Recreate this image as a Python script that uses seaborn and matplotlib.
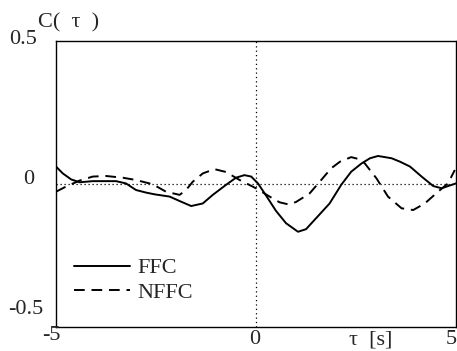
import matplotlib
matplotlib.use("Agg")
import matplotlib.pyplot as plt
import seaborn as sns
import pandas as pd

tau_ffc = [-5.0, -4.83, -4.62, -4.41, -4.08, -3.5, -3.25, -3.0, -2.75, -2.54, -2.16,
           -1.87, -1.62, -1.33, -1.08, -0.75, -0.5, -0.29, -0.12, 0.05, 0.25, 0.5, 0.75,
           1.05, 1.25, 1.5, 1.84, 2.13, 2.38, 2.64, 2.85, 3.05, 3.39, 3.6, 3.85, 4.14,
           4.43, 4.64, 4.89, 5.0]
c_ffc = [0.061, 0.037, 0.016, 0.006, 0.01, 0.01, 0.002, -0.021, -0.03, -0.036, -0.044,
         -0.062, -0.077, -0.068, -0.038, -0.003, 0.022, 0.031, 0.026, 0.002, -0.04, -0.094,
         -0.137, -0.167, -0.158, -0.12, -0.068, -0.003, 0.043, 0.072, 0.09, 0.098, 0.09,
         0.078, 0.061, 0.026, -0.007, -0.015, -0.003, 0.002]

tau_nffc = [-5.0, -4.75, -4.41, -4.08, -3.75, -3.33, -3.0, -2.58, -2.25, -1.91, -1.75,
            -1.58, -1.33, -1.04, -0.75, -0.41, 0.0, 0.34, 0.59, 0.8, 1.0, 1.34, 1.63,
            1.88, 2.1, 2.38, 2.6, 2.72, 3.01, 3.3, 3.64, 3.93, 4.22, 4.55, 4.8, 4.97]
c_nffc = [-0.027, -0.009, 0.012, 0.026, 0.028, 0.022, 0.014, -0.001, -0.027, -0.038, -0.021,
          0.008, 0.037, 0.052, 0.042, 0.014, -0.015, -0.044, -0.064, -0.071, -0.063, -0.033,
          0.014, 0.055, 0.078, 0.094, 0.086, 0.072, 0.02, -0.044, -0.085, -0.091, -0.068,
          -0.027, 0.002, 0.049]

series_names = ["FFC", "NFFC"]
x_tick_labels = ["-5", "0", "5"]
y_tick_labels = ["0.5", "0", "-0.5"]

df = pd.concat([
    pd.DataFrame({"tau": tau_ffc, "C": c_ffc, "series": series_names[0]}),
    pd.DataFrame({"tau": tau_nffc, "C": c_nffc, "series": series_names[1]}),
])

sns.set_style("white")
plt.rcParams["font.family"] = ["Liberation Serif", "DejaVu Serif"]

W, H = 457, 351
fig = plt.figure(figsize=(W / 100, H / 100), dpi=100)
ax = fig.add_axes([56 / W, 1 - 327 / H, 400 / W, 286 / H])

DASH = (5.5, 3.5)
LW = 1.4
sns.lineplot(data=df, x="tau", y="C", hue="series", style="series",
             palette={"FFC": "black", "NFFC": "black"},
             dashes={"FFC": "", "NFFC": DASH}, linewidth=LW,
             sort=False, legend=False, ax=ax)

ax.axhline(0, color="black", linestyle=(0, (1, 2.2)), linewidth=0.9)
ax.axvline(0, color="black", linestyle=(0, (1, 2.5)), linewidth=0.9)

ax.set_xlim(-5, 5)
ax.set_ylim(-0.5, 0.5)
ax.set_xticks([])
ax.set_yticks([])
ax.set_xlabel("")
ax.set_ylabel("")
for s in ax.spines.values():
    s.set_color("black")
    s.set_linewidth(1.0)

fs = 16


def px_text(x, y, s, ha="center", va="center"):
    fig.text(x / W, 1 - y / H, s, ha=ha, va=va, fontsize=fs)


# x tick labels
px_text(51, 335, x_tick_labels[0])
px_text(255, 340, x_tick_labels[1])
px_text(457, 340, x_tick_labels[2], ha="right")
# y tick labels
px_text(37, 40, y_tick_labels[0], ha="right")
px_text(34, 180, y_tick_labels[1], ha="right")
px_text(43, 310, y_tick_labels[2], ha="right")
# axis labels
px_text(38, 23, "C(  τ  )", ha="left")
px_text(371, 340, "τ  [s]")

# legend
ax.legend(handles=[plt.Line2D([], [], color="black", lw=LW),
                   plt.Line2D([], [], color="black", lw=LW, dashes=DASH)],
          labels=series_names, loc="center left", bbox_to_anchor=(0.045, 0.163),
          frameon=False, fontsize=fs, handlelength=2.5, handletextpad=0.35,
          labelspacing=0.18, borderpad=0, borderaxespad=0)

fig.savefig("out.png", dpi=100)
